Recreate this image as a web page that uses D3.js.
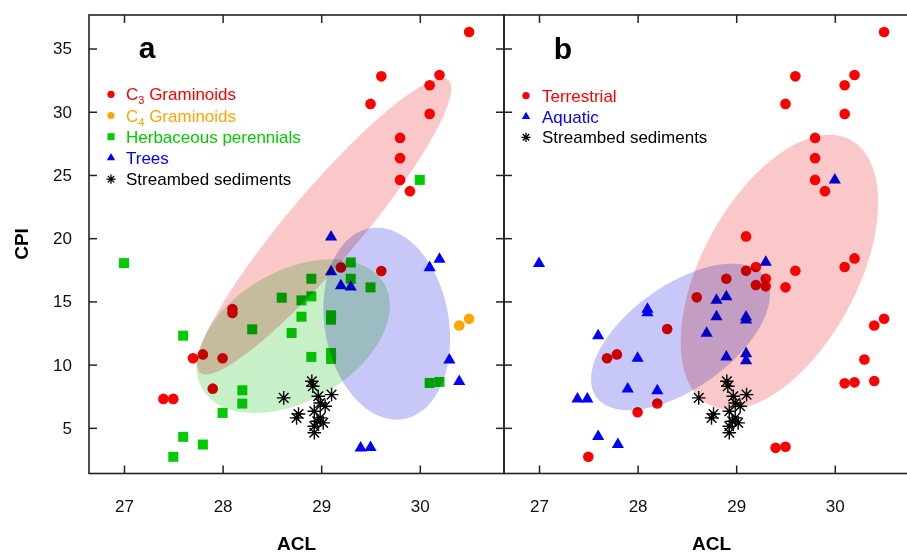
<!DOCTYPE html>
<html>
<head>
<meta charset="utf-8">
<script src="https://cdn.jsdelivr.net/npm/d3@7"></script>
<style>
  body { margin: 0; background: #fff; }
  svg { display: block; font-family: "Liberation Sans", Arial, sans-serif; }
</style>
</head>
<body>
<svg id="chart" width="907" height="554"></svg>
<script>
// tick values
const xTicks = [27, 28, 29, 30];
const yTicks = [5, 10, 15, 20, 25, 30, 35];

// panel a : [ACL, CPI]
const c3Graminoids = [[30.50,36.30],[29.61,32.80],[30.20,32.91],[30.10,32.09],[29.50,30.62],[30.10,29.83],
  [29.80,27.93],[29.80,26.33],[29.80,24.61],[29.90,23.72],[29.20,17.69],[29.61,17.40],[28.10,14.40],
  [28.10,14.08],[27.70,10.50],[27.80,10.81],[28.00,10.50],[27.90,8.10],[27.40,7.29],[27.50,7.29]];
const c4Graminoids = [[30.40,13.10],[30.50,13.63]];
const herbaceous = [[30.00,24.61],[27.00,18.03],[29.30,18.08],[28.90,16.79],[29.30,16.79],[29.50,16.11],
  [28.60,15.29],[28.80,15.08],[28.90,15.40],[28.80,13.79],[29.10,13.55],[29.10,13.90],[28.30,12.79],
  [28.70,12.50],[27.60,12.29],[28.90,10.61],[29.10,10.92],[29.10,10.45],[28.20,7.97],[28.20,6.92],
  [28.00,6.18],[30.10,8.55],[30.20,8.63],[27.60,4.29],[27.80,3.68],[27.50,2.71]];
const trees = [[29.10,20.10],[30.20,18.33],[30.10,17.67],[29.10,17.35],[29.20,16.24],[29.30,16.14],
  [30.30,10.37],[30.40,8.66],[29.40,3.40],[29.50,3.45]];
const sediments = [[28.62,7.37],[28.905,8.68],[28.915,8.29],[28.97,7.50],[29.105,7.63],[29.04,6.71],
  [28.99,6.97],[28.77,6.10],[28.75,5.79],[28.93,6.31],[28.99,5.79],[29.02,5.39],[28.93,5.13],
  [28.93,4.61],[28.96,5.52]];

// panel b
const terrestrial = [[30.50,36.30],[29.60,32.80],[30.20,32.91],[30.10,32.09],[29.50,30.62],[30.10,29.83],
  [29.80,27.93],[29.80,26.33],[29.80,24.61],[29.90,23.72],[29.10,20.14],[30.20,18.40],[30.10,17.72],
  [29.60,17.43],[29.20,17.72],[29.10,17.43],[28.90,16.79],[29.30,16.79],[29.20,16.29],[29.30,16.19],
  [29.50,16.11],[28.60,15.32],[28.30,12.82],[27.69,10.50],[27.79,10.81],[28.20,6.92],[28.00,6.23],
  [27.50,2.71],[29.40,3.42],[29.50,3.50],[30.40,13.10],[30.50,13.63],[30.30,10.40],[30.10,8.52],
  [30.20,8.60],[30.40,8.71]];
const aquatic = [[27.00,18.00],[29.30,18.10],[28.90,15.37],[28.80,15.09],[28.10,14.38],[28.10,14.11],
  [28.80,13.79],[29.10,13.77],[29.10,13.53],[28.70,12.48],[27.60,12.29],[28.00,10.51],[28.90,10.61],
  [29.10,10.87],[29.10,10.30],[27.90,8.08],[28.20,7.93],[27.39,7.29],[27.49,7.29],[27.60,4.32],
  [27.80,3.68],[30.00,24.60]];

// ellipses: centre and two semi-axis vectors, in data units
const ellipseC3 = { cx: 29.03, cy: 20.94, ax: 1.259, ay: 11.57, bx: 0.279, by: -1.84 };
const ellipseHerb = { cx: 28.716, cy: 12.25, ax: 0.923, ay: 4.147, bx: 0.330, by: -4.447 };
const ellipseTrees = { cx: 29.665, cy: 13.24, ax: -0.171, ay: 7.545, bx: 0.620, by: 0.850 };
const ellipseTerr = { cx: 29.438, cy: 17.31, ax: 0.7195, ay: 10.47, bx: 0.696, by: -2.89 };
const ellipseAqua = { cx: 28.435, cy: 12.19, ax: 0.854, ay: 4.75, bx: 0.306, by: -3.32 };

const RED = '#ff0000', ORANGE = '#ffa500', GREEN = '#00cc00', BLUE = '#0000ff';

const svg = d3.select('#chart');
svg.append('rect').attr('width', 907).attr('height', 554).attr('fill', '#fff');

const plotTop = 15, plotBottom = 473.5;
const y = d3.scaleLinear().domain([1.39, 37.65]).range([plotBottom, plotTop]);
const xA = d3.scaleLinear().domain([26.645, 30.854]).range([89, 504]);
const xB = d3.scaleLinear().domain([26.645, 30.854]).range([504, 919]);

function starPath(r) {
  const d = r * Math.SQRT1_2;
  return `M${-r},0L${r},0M0,${-r}L0,${r}M${-d},${-d}L${d},${d}M${-d},${d}L${d},${-d}`;
}

function ellipse(g, e, x, fill) {
  const pts = d3.range(0, 361, 3).map(function(a) {
    const t = a * Math.PI / 180;
    return [x(e.cx + e.ax * Math.cos(t) + e.bx * Math.sin(t)),
            y(e.cy + e.ay * Math.cos(t) + e.by * Math.sin(t))];
  });
  g.append('path')
    .attr('d', d3.line()(pts) + 'Z')
    .attr('fill', fill)
    .style('mix-blend-mode', 'multiply');
}

function circles(g, data, x, color) {
  g.selectAll(null).data(data).enter().append('circle')
    .attr('cx', d => x(d[0])).attr('cy', d => y(d[1])).attr('r', 5.3).attr('fill', color);
}
function squares(g, data, x, color) {
  g.selectAll(null).data(data).enter().append('rect')
    .attr('x', d => x(d[0]) - 5).attr('y', d => y(d[1]) - 5)
    .attr('width', 10).attr('height', 10).attr('fill', color);
}
function triangles(g, data, x, color) {
  g.selectAll(null).data(data).enter().append('path')
    .attr('d', d3.symbol(d3.symbolTriangle, 64))
    .attr('transform', d => `translate(${x(d[0])},${y(d[1])})`)
    .attr('fill', color);
}
function stars(g, data, x) {
  g.selectAll(null).data(data).enter().append('path')
    .attr('d', starPath(6.8))
    .attr('transform', d => `translate(${x(d[0])},${y(d[1])})`)
    .attr('stroke', '#000').attr('stroke-width', 1.4).attr('fill', 'none');
}

function frame(x, left, right, labelY) {
  const g = svg.append('g');
  g.append('g').attr('transform', `translate(0,${plotBottom})`)
    .call(d3.axisBottom(x).tickValues(xTicks).tickSize(-8).tickPadding(26).tickFormat(d3.format('d')));
  g.append('g').attr('transform', `translate(0,${plotTop})`)
    .call(d3.axisTop(x).tickValues(xTicks).tickSize(-8).tickFormat(''));
  g.append('g').attr('transform', `translate(${left},0)`)
    .call(d3.axisLeft(y).tickValues(yTicks).tickSize(-8).tickPadding(17).tickFormat(labelY ? d3.format('d') : ''));
  g.append('g').attr('transform', `translate(${right},0)`)
    .call(d3.axisRight(y).tickValues(yTicks).tickSize(-8).tickFormat(''));
  g.selectAll('.domain').remove();
  g.selectAll('.tick line').attr('stroke', '#222').attr('stroke-width', 1.5);
  g.selectAll('.tick text').attr('font-size', 17).attr('fill', '#111')
    .attr('font-family', '"Liberation Sans", Arial, sans-serif');
  g.append('rect').attr('x', left).attr('y', plotTop).attr('width', right - left).attr('height', plotBottom - plotTop)
    .attr('fill', 'none').attr('stroke', '#222').attr('stroke-width', 1.6);
  g.append('text').attr('x', (left + right) / 2).attr('y', 550)
    .attr('text-anchor', 'middle').attr('font-size', 19).attr('font-weight', 'bold').text('ACL');
}

// panel a marks
const pa = svg.append('g');
squares(pa, herbaceous, xA, GREEN);
circles(pa, c3Graminoids, xA, RED);
circles(pa, c4Graminoids, xA, ORANGE);
triangles(pa, trees, xA, BLUE);
stars(pa, sediments, xA);
ellipse(pa, ellipseC3, xA, '#fac8c8');
ellipse(pa, ellipseHerb, xA, '#c8f0c8');
ellipse(pa, ellipseTrees, xA, '#c8c8f8');

// panel b marks
const pb = svg.append('g');
circles(pb, terrestrial, xB, RED);
triangles(pb, aquatic, xB, BLUE);
stars(pb, sediments, xB);
ellipse(pb, ellipseTerr, xB, '#fac8c8');
ellipse(pb, ellipseAqua, xB, '#c8c8f8');

frame(xA, 89, 504, true);
frame(xB, 504, 919, false);

svg.append('text').attr('transform', 'translate(28,244) rotate(-90)')
  .attr('text-anchor', 'middle').attr('font-size', 19).attr('font-weight', 'bold').text('CPI');
svg.append('text').attr('x', 147).attr('y', 58).attr('text-anchor', 'middle')
  .attr('font-size', 30).attr('font-weight', 'bold').text('a');
svg.append('text').attr('x', 563).attr('y', 59).attr('text-anchor', 'middle')
  .attr('font-size', 30).attr('font-weight', 'bold').text('b');

// legends
function legend(items, mx, tx, y0, step) {
  const g = svg.append('g');
  items.forEach(function(it, i) {
    const cy = y0 + i * step;
    if (it.shape === 'circle') g.append('circle').attr('cx', mx).attr('cy', cy).attr('r', 3.6).attr('fill', it.color);
    if (it.shape === 'square') g.append('rect').attr('x', mx - 3.5).attr('y', cy - 3.5).attr('width', 7).attr('height', 7).attr('fill', it.color);
    if (it.shape === 'triangle') g.append('path').attr('d', d3.symbol(d3.symbolTriangle, 30))
      .attr('transform', `translate(${mx},${cy})`).attr('fill', it.color);
    if (it.shape === 'star') g.append('path').attr('d', starPath(4.6))
      .attr('transform', `translate(${mx},${cy})`).attr('stroke', '#000').attr('stroke-width', 1.3);
    const t = g.append('text').attr('x', tx).attr('y', cy + 6).attr('font-size', 17).attr('fill', it.color);
    if (it.sub) {
      t.append('tspan').text(it.label);
      t.append('tspan').attr('font-size', 11).attr('dy', 4).text(it.sub);
      t.append('tspan').attr('dy', -4).text(it.rest);
    } else {
      t.text(it.label);
    }
  });
}

legend([
  { shape: 'circle', color: RED, label: 'C', sub: '3', rest: ' Graminoids' },
  { shape: 'circle', color: ORANGE, label: 'C', sub: '4', rest: ' Graminoids' },
  { shape: 'square', color: GREEN, label: 'Herbaceous perennials' },
  { shape: 'triangle', color: BLUE, label: 'Trees' },
  { shape: 'star', color: '#000', label: 'Streambed sediments' }
], 111, 126, 94.3, 21.2);

legend([
  { shape: 'circle', color: RED, label: 'Terrestrial' },
  { shape: 'triangle', color: BLUE, label: 'Aquatic' },
  { shape: 'star', color: '#000', label: 'Streambed sediments' }
], 526, 542, 95.7, 20.8);
</script>
</body>
</html>
